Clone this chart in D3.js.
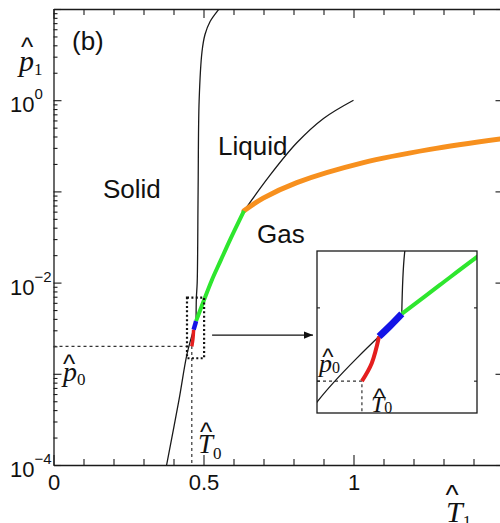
<!DOCTYPE html>
<html>
<head>
<meta charset="utf-8">
<script src="https://cdn.jsdelivr.net/npm/d3@7"></script>
<style>
  html, body { margin: 0; padding: 0; background: #fff; }
  svg { display: block; }
  text { font-family: "Liberation Sans", Arial, sans-serif; fill: #111; }
  .it { font-family: "Liberation Serif", "Times New Roman", serif; font-style: italic; }
  .sub { font-family: "Liberation Serif", "Times New Roman", serif; font-style: normal; }
</style>
</head>
<body>
<svg id="chart" width="500" height="523"></svg>
<script>
// reduced temperature T^ vs reduced pressure p^ (log)
const sublimation = [[0.377, 1e-4], [0.418, 5.1e-4], [0.445, 1.64e-3], [0.4671, 3.05e-3]];
const melting = [[0.4752, 3.78e-3], [0.4763, 6.87e-3], [0.479, 1e-2], [0.482, 0.1], [0.4855, 1],
  [0.495, 3.4], [0.505, 5.25], [0.522, 7.3], [0.548, 9.64], [0.552, 10]];
const liquidGas = [[0.635, 6.12e-2], [0.72, 0.148], [0.811, 0.341], [0.9, 0.631], [1.0, 1.0]];
const redBranch = [[0.461, 2.0e-3], [0.4645, 2.37e-3], [0.4671, 3.05e-3]];
const blueBranch = [[0.4671, 3.05e-3], [0.471, 3.37e-3], [0.4752, 3.78e-3]];
const greenBranch = [[0.4752, 3.78e-3], [0.4888, 4.97e-3], [0.5019, 6.46e-3], [0.527, 1.05e-2],
  [0.557, 1.74e-2], [0.59, 3.02e-2], [0.635, 6.12e-2]];
const orangeBranch = [[0.635, 6.12e-2], [0.699, 8.43e-2], [0.811, 0.125], [1.033, 0.207],
  [1.255, 0.289], [1.5, 0.38]];
const T0 = 0.461, p0 = 2e-3;

// axes
const xTickValues = [0, 0.1, 0.2, 0.3, 0.4, 0.5, 0.6, 0.7, 0.8, 0.9, 1, 1.1, 1.2, 1.3, 1.4, 1.5];
const xMajor = [0, 0.5, 1, 1.5];
const xLabels = { 0: '0', 0.5: '0.5', 1: '1' };
const yDecades = [1e-4, 1e-3, 1e-2, 1e-1, 1, 10];
const yLabels = [[1, '0'], [1e-2, '\u22122'], [1e-4, '\u22124']];
const insetT = [0.445, 0.502];
const insetP = [1.48e-3, 6.85e-3];
const insetTicks = [2e-3, 4e-3];

const colors = { red: '#e41e1e', blue: '#1414e6', green: '#2ee62e', orange: '#f7901e', ink: '#1a1a1a' };

const svg = d3.select('#chart');
const L = 53.5, R = 503.5, T = 9, B = 465;

const x = d3.scaleLinear().domain([0, 1.5]).range([L, R]);
const y = d3.scaleLog().domain([1e-4, 10]).range([B, T]);

const yMinor = [];
yDecades.slice(0, -1).forEach((d) => {
  for (let m = 2; m <= 9; m++) yMinor.push(d * m);
});

svg.append('clipPath').attr('id', 'plot-clip')
  .append('rect').attr('x', L).attr('y', T).attr('width', R - L).attr('height', B - T);

// --- axes
const axisStyle = (g) => {
  g.select('.domain').attr('stroke', colors.ink).attr('stroke-width', 1.3);
  g.selectAll('.tick line').attr('stroke', colors.ink).attr('stroke-width', 1.1);
};

const gBottom = svg.append('g')
  .attr('transform', `translate(0,${B})`)
  .call(d3.axisBottom(x).tickValues(xTickValues).tickSize(-6).tickSizeOuter(0).tickPadding(9)
    .tickFormat((d) => xLabels[d] ?? ''))
  .call(axisStyle);
gBottom.selectAll('.tick line').attr('y2', (d) => (xMajor.includes(d) ? -10 : -6));
gBottom.selectAll('.tick text').attr('font-size', 22).attr('font-family', '"Liberation Sans", Arial, sans-serif').attr('fill', '#111');

const gTop = svg.append('g')
  .attr('transform', `translate(0,${T})`)
  .call(d3.axisTop(x).tickValues(xTickValues).tickSize(-6).tickSizeOuter(0).tickFormat(''))
  .call(axisStyle);
gTop.selectAll('.tick line').attr('y2', (d) => (xMajor.includes(d) ? 9 : 6));

const gLeft = svg.append('g')
  .attr('transform', `translate(${L},0)`)
  .call(d3.axisLeft(y).tickValues(yDecades.concat(yMinor)).tickSize(-4).tickSizeOuter(0).tickFormat(''))
  .call(axisStyle);
gLeft.selectAll('.tick line').attr('x2', (d) => (yDecades.includes(d) ? 8 : 4));

svg.append('g')
  .attr('transform', `translate(${R},0)`)
  .call(d3.axisRight(y).tickValues(yDecades).tickSize(-8).tickSizeOuter(0).tickFormat(''))
  .call(axisStyle);

const yLab = svg.append('g').attr('font-size', 22);
yLabels.forEach(([v, e]) => {
  const t = yLab.append('text').attr('x', 10).attr('y', y(v) + 12);
  t.append('tspan').text('10');
  t.append('tspan').attr('font-size', 15).attr('dy', -13).text(e);
});

// --- hatted symbols (p^, T^)
function hatted(g, sym, sub, xp, base, size, subSize, hatX, hatBase, hatSize, subDy) {
  g.append('text').attr('x', hatX).attr('y', hatBase).attr('text-anchor', 'middle')
    .attr('font-size', hatSize).text('^');
  const t = g.append('text').attr('x', xp).attr('y', base).attr('class', 'it').attr('font-size', size).text(sym);
  t.append('tspan').attr('class', 'sub').attr('font-size', subSize).attr('dy', subDy).text(sub);
}

// --- main plot
const line = d3.line().x((d) => x(d[0])).y((d) => y(d[1])).curve(d3.curveCatmullRom.alpha(0.5));
const plot = svg.append('g').attr('clip-path', 'url(#plot-clip)');

// guide to (T0, p0)
plot.append('path')
  .attr('d', `M${L},${y(p0)}H${x(T0)}V${B}`)
  .attr('fill', 'none').attr('stroke', '#333').attr('stroke-width', 1.2).attr('stroke-dasharray', '3,3');

[[sublimation, 1.3], [melting, 1.3], [liquidGas, 1.3]].forEach(([data, w]) => {
  plot.append('path').attr('d', line(data)).attr('fill', 'none')
    .attr('stroke', colors.ink).attr('stroke-width', w);
});
plot.append('path').attr('d', line(orangeBranch)).attr('fill', 'none')
  .attr('stroke', colors.orange).attr('stroke-width', 5).attr('stroke-linecap', 'round');
plot.append('path').attr('d', line(greenBranch)).attr('fill', 'none')
  .attr('stroke', colors.green).attr('stroke-width', 4);
plot.append('path').attr('d', line(redBranch)).attr('fill', 'none')
  .attr('stroke', colors.red).attr('stroke-width', 3.5);
plot.append('path').attr('d', line(blueBranch)).attr('fill', 'none')
  .attr('stroke', colors.blue).attr('stroke-width', 4.5);

// dotted zoom box
plot.append('rect')
  .attr('x', x(insetT[0])).attr('y', y(insetP[1]))
  .attr('width', x(insetT[1]) - x(insetT[0])).attr('height', y(insetP[0]) - y(insetP[1]))
  .attr('fill', 'none').attr('stroke', '#111').attr('stroke-width', 2.2).attr('stroke-dasharray', '2,2.4');

// --- inset
const IL = 317, IR = 477, IT = 251, IB = 413;
const xi = d3.scaleLinear().domain(insetT).range([IL, IR]);
const yi = d3.scaleLog().domain(insetP).range([IB, IT]);
const lineI = d3.line().x((d) => xi(d[0])).y((d) => yi(d[1])).curve(d3.curveCatmullRom.alpha(0.5));

// arrow to inset
svg.append('defs').append('marker')
  .attr('id', 'arrow').attr('viewBox', '0 -5 10 10').attr('refX', 10).attr('refY', 0)
  .attr('markerWidth', 9).attr('markerHeight', 9).attr('markerUnits', 'userSpaceOnUse').attr('orient', 'auto')
  .append('path').attr('d', 'M0,-4L10,0L0,4Z').attr('fill', '#111');
const arrowY = y(2.66e-3);
svg.append('line')
  .attr('x1', x(insetT[1]) + 8).attr('x2', IL - 4).attr('y1', arrowY).attr('y2', arrowY)
  .attr('stroke', '#111').attr('stroke-width', 1.3).attr('marker-end', 'url(#arrow)');

svg.append('clipPath').attr('id', 'inset-clip')
  .append('rect').attr('x', IL).attr('y', IT).attr('width', IR - IL).attr('height', IB - IT);
svg.append('rect').attr('x', IL).attr('y', IT).attr('width', IR - IL).attr('height', IB - IT)
  .attr('fill', '#fff');

const inset = svg.append('g').attr('clip-path', 'url(#inset-clip)');
inset.append('path')
  .attr('d', `M${IL},${yi(p0)}H${xi(T0)}V${IB}`)
  .attr('fill', 'none').attr('stroke', '#333').attr('stroke-width', 1.2).attr('stroke-dasharray', '3,3');
[sublimation, melting].forEach((data) => {
  inset.append('path').attr('d', lineI(data)).attr('fill', 'none')
    .attr('stroke', colors.ink).attr('stroke-width', 1.3);
});
inset.append('path').attr('d', lineI(greenBranch)).attr('fill', 'none')
  .attr('stroke', colors.green).attr('stroke-width', 4);
inset.append('path').attr('d', lineI(redBranch)).attr('fill', 'none')
  .attr('stroke', colors.red).attr('stroke-width', 4);
inset.append('path').attr('d', lineI(blueBranch)).attr('fill', 'none')
  .attr('stroke', colors.blue).attr('stroke-width', 7);

svg.append('rect').attr('x', IL).attr('y', IT).attr('width', IR - IL).attr('height', IB - IT)
  .attr('fill', 'none').attr('stroke', colors.ink).attr('stroke-width', 1.3);
const insetTickG = svg.append('g').attr('stroke', colors.ink).attr('stroke-width', 1.1);
insetTicks.forEach((v) => {
  insetTickG.append('line').attr('x1', IL).attr('x2', IL + 3).attr('y1', yi(v)).attr('y2', yi(v));
  insetTickG.append('line').attr('x1', IR - 3).attr('x2', IR).attr('y1', yi(v)).attr('y2', yi(v));
});

// --- labels
const labels = svg.append('g');
labels.append('text').attr('x', 72).attr('y', 50).attr('font-size', 26).text('(b)');
labels.append('text').attr('x', 103).attr('y', 198).attr('font-size', 26).text('Solid');
labels.append('text').attr('x', 218).attr('y', 155).attr('font-size', 26).text('Liquid');
labels.append('text').attr('x', 257).attr('y', 243).attr('font-size', 26).text('Gas');

hatted(labels, 'p', '1', 19, 71, 30, 17, 27, 55.5, 26, 4);
hatted(labels, 'T', '1', 446, 522, 30, 17, 452, 504, 28, 5);
hatted(labels, 'p', '0', 63, y(p0) + 35, 28, 17, 69, y(p0) + 27, 26, 4);
hatted(labels, 'T', '0', 198, 453, 27, 17, 206, 440.5, 26, 6);
hatted(labels, 'p', '0', 319, 372, 26, 16, 328, 365, 24, 1);
hatted(labels, 'T', '0', 371, 412, 24, 16, 379.5, 405, 24, 1);
</script>
</body>
</html>
